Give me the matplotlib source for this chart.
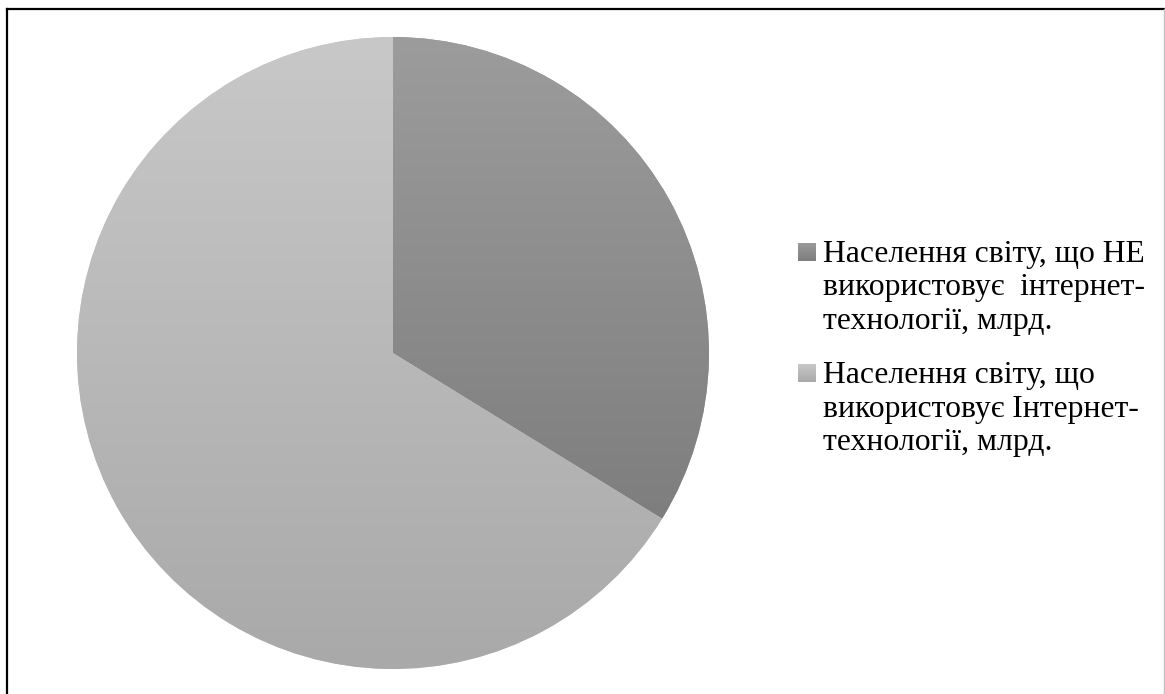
import matplotlib.pyplot as plt
import numpy as np
from matplotlib.colors import LinearSegmentedColormap

# населення світу, млрд
labels = ["Населення світу, що НЕ\nвикористовує  інтернет-\nтехнології, млрд.",
          "Населення світу, що\nвикористовує Інтернет-\nтехнології, млрд."]
values = [2.5, 4.9]
grad_top = ["#9c9c9c", "#c8c8c8"]
grad_bottom = ["#7e7e7e", "#a9a9a9"]

W, H = 1165, 694
fig = plt.figure(figsize=(W / 100, H / 100), dpi=100)

# рамка
fig.add_artist(plt.Line2D([7 / W, 7 / W], [0, 1 - 9 / H], color="black", lw=1.6))
fig.add_artist(plt.Line2D([7 / W, 1], [1 - 9 / H, 1 - 9 / H], color="black", lw=1.6))
fig.add_artist(plt.Line2D([1164 / W, 1164 / W], [0, 1 - 9 / H], color="#c0c0c0", lw=1))

cx, cy, r = 393, 353, 316
ax = fig.add_axes([(cx - r) / W, (H - cy - r) / H, 2 * r / W, 2 * r / H])
wedges, _ = ax.pie(values, startangle=90, counterclock=False, radius=1,
                   colors=grad_top)
ax.axis("off")

grad = np.linspace(0, 1, 256).reshape(-1, 1)
for w, c0, c1 in zip(wedges, grad_top, grad_bottom):
    ext = w.get_path().get_extents()
    cmap = LinearSegmentedColormap.from_list("g", [c1, c0])
    im = ax.imshow(grad, cmap=cmap, origin="lower", aspect="auto",
                   extent=[ext.x0, ext.x1, ext.y0, ext.y1], zorder=2)
    im.set_clip_path(w)
    w.set_edgecolor("none")
ax.set_xlim(-1, 1)
ax.set_ylim(-1, 1)

# легенда
font = dict(family="Liberation Serif", size=22.8, color="black")
baselines = [[262, 295.5, 329], [383, 416.5, 450]]
for lab, bl, c0, c1 in zip(labels, baselines, grad_top, grad_bottom):
    sq_top = bl[0] - 19
    sax = fig.add_axes([798 / W, 1 - (sq_top + 18) / H, 18 / W, 18 / H])
    sax.imshow(grad, cmap=LinearSegmentedColormap.from_list("s", [c1, c0]),
               origin="lower", aspect="auto")
    sax.axis("off")
    for line, y in zip(lab.split("\n"), bl):
        fig.text(823 / W, 1 - y / H, line, ha="left", va="baseline", **font)

fig.savefig("out.png", dpi=100)
